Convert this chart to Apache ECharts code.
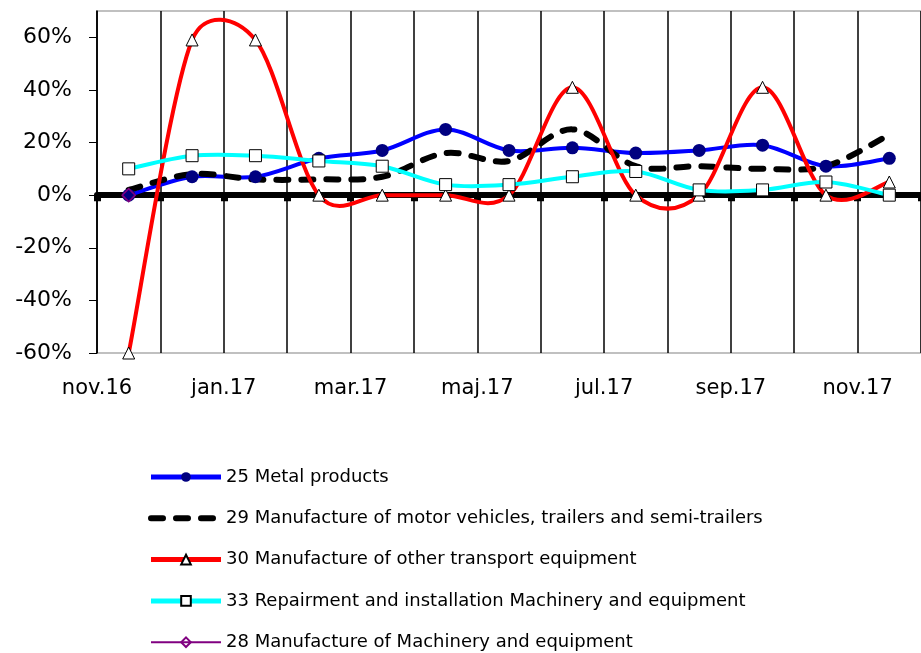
<!DOCTYPE html>
<html>
<head>
<meta charset="utf-8">
<script src="https://cdn.jsdelivr.net/npm/echarts@6/dist/echarts.min.js"></script>
<style>
  html, body { margin: 0; padding: 0; background: #fff; }
  #chart { width: 921px; height: 653px; }
</style>
</head>
<body>
<div id="chart"></div>
<script>
// months the points belong to (one per category band)
const months = ["nov.16", "dec.16", "jan.17", "feb.17", "mar.17", "apr.17", "maj.17",
  "jun.17", "jul.17", "aug.17", "sep.17", "okt.17", "nov.17"];
// tick labels sit on the band boundaries
const tickLabels = ["nov.16", "dec.16", "jan.17", "feb.17", "mar.17", "apr.17", "maj.17",
  "jun.17", "jul.17", "aug.17", "sep.17", "okt.17", "nov.17", "dec.17"];

const metalProducts = [0, 7, 7, 14, 17, 25, 17, 18, 16, 17, 19, 11, 14];
const motorVehicles = [2, 8, 6, 6, 7, 16, 13, 25, 11, 11, 10, 11, 23];
const otherTransport = [-60, 59, 59, 0, 0, 0, 0, 41, 0, 0, 41, 0, 5];
const repairMachinery = [10, 15, 15, 13, 11, 4, 4, 7, 9, 2, 2, 5, 0];
const machinery = [0, null, null, null, null, null, null, null, null, null, null, null, null];

const names = [
  "25 Metal products",
  "29 Manufacture of motor vehicles, trailers and semi-trailers",
  "30 Manufacture of other transport equipment",
  "33 Repairment and installation Machinery and equipment",
  "28 Manufacture of Machinery and equipment"
];

const font = "DejaVu Sans";
const chart = echarts.init(document.getElementById("chart"));

// spreadsheet-style smoothing: bezier with 1/6 tangents, capped at half the segment
function smoothPath(pts) {
  let d = "M" + pts[0][0] + "," + pts[0][1];
  const dist = (a, b) => Math.hypot(a[0] - b[0], a[1] - b[1]);
  for (let i = 0; i < pts.length - 1; i++) {
    const p0 = pts[i - 1] || pts[i];
    const p1 = pts[i];
    const p2 = pts[i + 1];
    const p3 = pts[i + 2] || pts[i + 1];
    const d12 = dist(p1, p2);
    const d02 = dist(p0, p2);
    const d13 = dist(p1, p3);
    const f1 = d02 > 0 ? Math.min(1 / 6, d12 / (2 * d02)) : 0;
    const f2 = d13 > 0 ? Math.min(1 / 6, d12 / (2 * d13)) : 0;
    const c1 = [p1[0] + (p2[0] - p0[0]) * f1, p1[1] + (p2[1] - p0[1]) * f1];
    const c2 = [p2[0] - (p3[0] - p1[0]) * f2, p2[1] - (p3[1] - p1[1]) * f2];
    d += " C" + c1[0] + "," + c1[1] + " " + c2[0] + "," + c2[1] + " " + p2[0] + "," + p2[1];
  }
  return d;
}

function curve(values, style) {
  return {
    type: "custom",
    silent: true,
    data: [0],
    renderItem: function (params, api) {
      const pts = values.map((v, i) => api.coord([i, v]));
      return {
        type: "path",
        shape: { pathData: smoothPath(pts) },
        style: Object.assign({ fill: null }, style)
      };
    }
  };
}

const options = {
  animation: false,
  backgroundColor: "#fff",
  grid: {
    left: 97, top: 11, width: 826, height: 342,
    show: true, borderColor: "#c0c0c0", borderWidth: 2
  },
  legend: {
    orient: "vertical",
    left: 148,
    top: 468,
    height: 260,
    padding: 0,
    itemWidth: 70,
    itemHeight: 12,
    itemGap: 23.3,
    textStyle: { fontFamily: font, fontSize: 18, color: "#000" },
    data: [
      { name: names[0], lineStyle: { color: "#0000ff", width: 5, opacity: 1 } },
      { name: names[1], lineStyle: { color: "#000", width: 6, type: [12, 13], cap: "round", opacity: 1 },
        itemStyle: { color: "rgba(0,0,0,0)", borderWidth: 0 } },
      { name: names[2], lineStyle: { color: "#ff0000", width: 5, opacity: 1 } },
      { name: names[3], lineStyle: { color: "#00ffff", width: 5, opacity: 1 } },
      { name: names[4], lineStyle: { color: "#800080", width: 2, opacity: 1 } }
    ]
  },
  xAxis: [
    {
      type: "category",
      data: months,
      boundaryGap: true,
      axisLine: { onZero: true, lineStyle: { color: "#000", width: 6 } },
      axisTick: { show: true, interval: 0, length: 6, lineStyle: { color: "#000", width: 7 } },
      axisLabel: { show: false },
      splitLine: { show: true, interval: 0, lineStyle: { color: "#000", width: 1.5 } }
    },
    {
      type: "category",
      data: tickLabels,
      boundaryGap: false,
      position: "bottom",
      axisLine: { show: false, onZero: false },
      axisTick: { show: false },
      splitLine: { show: false },
      axisLabel: { interval: 1, fontFamily: font, fontSize: 21, color: "#000", margin: 25 }
    }
  ],
  yAxis: {
    type: "value",
    min: -60,
    max: 70,
    interval: 20,
    axisLine: { show: true, lineStyle: { color: "#000", width: 1.5 } },
    axisTick: { show: true, length: 8, lineStyle: { color: "#000" } },
    splitLine: { show: false },
    axisLabel: {
      formatter: "{value}%", showMaxLabel: false,
      fontFamily: font, fontSize: 22, color: "#000", margin: 25
    }
  },
  series: [
    curve(metalProducts, { stroke: "#0000ff", lineWidth: 4 }),
    curve(motorVehicles, { stroke: "#000", lineWidth: 6, lineDash: [12, 13], lineCap: "round" }),
    curve(otherTransport, { stroke: "#ff0000", lineWidth: 4 }),
    curve(repairMachinery, { stroke: "#00ffff", lineWidth: 4 }),
    {
      name: names[0],
      type: "line",
      data: metalProducts,
      symbol: "circle",
      symbolSize: 13,
      lineStyle: { color: "#0000ff", width: 4, opacity: 0 },
      itemStyle: { color: "#000080" }
    },
    {
      name: names[1],
      type: "line",
      data: motorVehicles,
      symbol: "circle",
      showSymbol: false,
      lineStyle: { color: "#000", width: 6, opacity: 0 },
      itemStyle: { color: "#000" }
    },
    {
      name: names[2],
      type: "line",
      data: otherTransport,
      symbol: "triangle",
      symbolSize: 12,
      lineStyle: { color: "#ff0000", width: 4, opacity: 0 },
      itemStyle: { color: "#fff", borderColor: "#000", borderWidth: 1 }
    },
    {
      name: names[3],
      type: "line",
      data: repairMachinery,
      symbol: "rect",
      symbolSize: 12,
      lineStyle: { color: "#00ffff", width: 4, opacity: 0 },
      itemStyle: { color: "#fff", borderColor: "#000", borderWidth: 1 }
    },
    {
      name: names[4],
      type: "line",
      data: machinery,
      symbol: "diamond",
      symbolSize: 13,
      lineStyle: { color: "#800080", width: 2 },
      itemStyle: { color: "rgba(0,0,0,0)", borderColor: "#800080", borderWidth: 1.5 }
    }
  ]
};

chart.setOption(options);
</script>
</body>
</html>
